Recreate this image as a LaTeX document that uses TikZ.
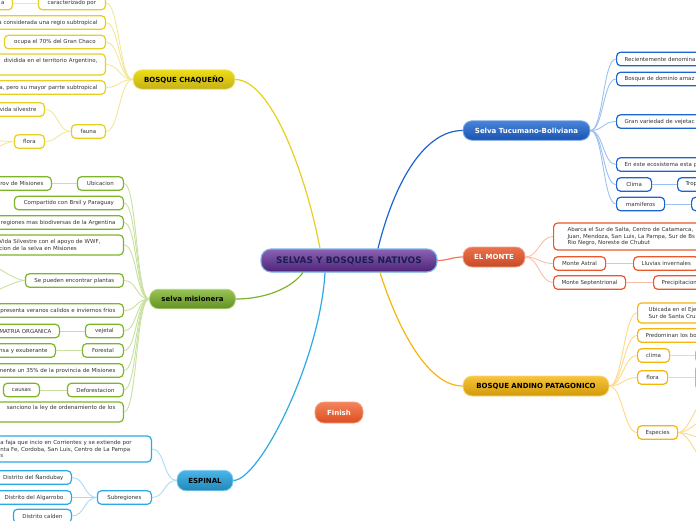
\documentclass[tikz,border=0pt]{standalone}
\usepackage{fontspec}
\setmainfont{DejaVu Sans}
\usetikzlibrary{calc}
\definecolor{txtc}{HTML}{333333}
\definecolor{yB}{HTML}{E6CF1E}\definecolor{yC}{HTML}{F3E79A}
\definecolor{gB}{HTML}{7DB52A}\definecolor{gC}{HTML}{C8E0A0}
\definecolor{lB}{HTML}{2AA9E6}\definecolor{lC}{HTML}{A8DCF7}
\definecolor{tB}{HTML}{1C64D0}\definecolor{tC}{HTML}{9CC0F0}
\definecolor{oB}{HTML}{E8582C}\definecolor{oC}{HTML}{F8BFA8}
\definecolor{aB}{HTML}{F5B50A}\definecolor{aC}{HTML}{FDD98A}
\newcommand\leaffont{\fontsize{5.5}{6.6}\selectfont}
\begin{document}
\begin{tikzpicture}[x=1pt,y=-1pt,
  leaf/.style={draw, fill=white, rounded corners=4pt, line width=1.2pt, font=\leaffont, text=txtc, inner xsep=8pt, inner ysep=1pt, minimum height=13.5pt},
  leafY/.style={leaf, draw=yB}, leafG/.style={leaf, draw=gB}, leafL/.style={leaf, draw=lB},
  leafT/.style={leaf, draw=tB}, leafO/.style={leaf, draw=oB}, leafA/.style={leaf, draw=aB},
  offL/.style={anchor=east, text width=220pt, align=right},
  offR/.style={anchor=west, text width=220pt, align=left},
  mainnode/.style={draw, rounded corners=9pt, line width=0.8pt, minimum height=19.5pt, inner sep=0pt, font=\bfseries\fontsize{7}{8}\selectfont},
  mainY/.style={mainnode, top color=yellow!30!yB, bottom color=yB!85!black, draw=yB!50!white, text=black},
  mainG/.style={mainnode, top color=gB!80!white, bottom color=gB!80!black, draw=gB!60!white, text=black},
  mainL/.style={mainnode, top color=lB!85!white, bottom color=lB!80!black, draw=lB!55!white, text=black},
  mainT/.style={mainnode, top color=tB!80!white, bottom color=tB!85!black, draw=tB!55!white, text=white},
  mainO/.style={mainnode, top color=oB!85!white, bottom color=oB!85!black, draw=oB!55!white, text=white},
  mainA/.style={mainnode, top color=aB!80!white, bottom color=aB!85!black, draw=aB!55!white, text=black},
  mainC/.style={mainnode, top color={rgb,255:red,139;green,98;blue,180}, bottom color={rgb,255:red,75;green,35;blue,120}, draw={rgb,255:red,116;green,180;blue,230}, line width=1.1pt, text={rgb,255:red,27;green,31;blue,79}, font=\bfseries\fontsize{9}{10}\selectfont, rounded corners=10pt},
  mainF/.style={mainnode, top color={rgb,255:red,243;green,132;blue,90}, bottom color={rgb,255:red,220;green,78;blue,34}, draw={rgb,255:red,246;green,160;blue,128}, text=white},
  lc/.style={out=180, in=0, distance=13pt},
  rc/.style={out=0, in=180, distance=13pt},
  sub/.style={line width=0.9pt},
  big/.style={line width=1.2pt}
]
\useasboundingbox (0,0) rectangle (696,520);

% ---------- main nodes
\node[mainC, minimum width=176pt, minimum height=23pt] (cen) at (349,260.5) {SELVAS Y BOSQUES NATIVOS};
\node[mainF, minimum width=48pt, minimum height=21pt] (fin) at (339,412.5) {Finish};
\node[mainY, minimum width=102pt] (chaco) at (184,79.5) {BOSQUE CHAQUEÑO};
\node[mainG, minimum width=86pt] (mis) at (192.5,299) {selva misionera};
\node[mainL, minimum width=56pt, minimum height=20.5pt] (esp) at (205,480.5) {ESPINAL};
\node[mainT, minimum width=127pt] (tuc) at (526.5,130.5) {Selva Tucumano-Boliviana};
\node[mainO, minimum width=62pt, minimum height=20pt] (mon) at (494,257) {EL MONTE};
\node[mainA, minimum width=146pt, minimum height=20pt] (and) at (536,386) {BOSQUE ANDINO PATAGONICO};

% ---------- main connectors
\draw[big, yB] ([xshift=-29pt]cen.north) .. controls (305,170) and (270,79.5) .. (chaco.east);
\draw[big, tB] ([xshift=29pt]cen.north) .. controls (395,180) and (425,130.5) .. (tuc.west);
\draw[big, oB!80!white] (cen.east) to[out=0,in=180] (mon.west);
\draw[big, aB] ([xshift=31pt]cen.south) .. controls (395,320) and (425,386) .. (and.west);
\draw[big, gB] ([xshift=-46pt]cen.south) .. controls (290,290) and (262,299) .. (mis.east);
\draw[big, lB] ([xshift=-24pt]cen.south) .. controls (320,360) and (260,480) .. (esp.east);

% ---------- BOSQUE CHAQUEÑO
\node[leafY, anchor=east, minimum width=67pt] (c1) at (106,3) {caracterizado por};
\node[leafY, offL] (c1a) at (13,3) {a};
\node[leafY, offL] (c2) at (106,22.5) {a considerada una regio subtropical};
\node[leafY, anchor=east, minimum width=101pt] (c3) at (106,42) {ocupa el 70\% del Gran Chaco};
\node[leafY, offL, minimum height=21pt] (c4) at (106,64.5) {dividida en el territorio Argentino,\\ \strut};
\node[leafY, offL] (c5) at (106,87.5) {a, pero su mayor parrte subtropical};
\node[leafY, anchor=east, minimum width=34pt] (c6) at (106,131.5) {fauna};
\node[leafY, offL] (c6a) at (45,109.5) {vida silvestre};
\node[leafY, anchor=east, minimum width=30pt] (c6b) at (45,141.5) {flora};
\coordinate (f1) at (-40,138);
\coordinate (f2) at (-40,165);
\foreach \c in {c1,c2,c3,c4,c5,c6} \draw[sub, yC] (chaco.west) to[lc] (\c.east);
\draw[sub, yC] (c1.west) to[lc] (c1a.east);
\draw[sub, yC] (c6.west) to[lc] (c6a.east);
\draw[sub, yC] (c6.west) to[lc] (c6b.east);
\draw[sub, yC] (c6b.west) to[lc] (f1);
\draw[sub, yC] (c6b.west) to[lc] (f2);

% ---------- selva misionera
\node[leafG, anchor=east, minimum width=46pt] (m1) at (124,183.5) {Ubicacion};
\node[leafG, offL] (m1a) at (52,183.5) {rov de Misiones};
\node[leafG, anchor=east, minimum width=109pt] (m2) at (124,203) {Compartido con Brsil y Paraguay};
\node[leafG, offL] (m3) at (124,222.5) {regiones mas biodiversas de la Argentina};
\node[leafG, anchor=east, text width=116pt, align=left, minimum height=20pt] (m4) at (124,245) {Vida Silvestre con el apoyo de WWF,\\cion de la selva en Misiones};
\node[leafG, anchor=east, minimum width=98pt] (m5) at (124,280.5) {Se pueden encontrar plantas};
\coordinate (p1) at (-30,255);
\coordinate (p2) at (-30,300);
\node[leafG, offL] (m6) at (124,310.5) {presenta veranos calidos e inviernos frios};
\node[leafG, anchor=east, minimum width=38pt] (m7) at (124,331) {vejetal};
\node[leafG, offL] (m7a) at (60,331) {MATRIA ORGANICA};
\node[leafG, anchor=east, minimum width=41pt] (m8) at (124,350.5) {Forestal};
\node[leafG, offL] (m8a) at (56,350.5) {nsa y exuberante};
\node[leafG, offL] (m9) at (124,370.5) {mente un 35\% de la provincia de Misiones};
\node[leafG, anchor=east, minimum width=56pt] (m10) at (124,390) {Deforestacion};
\node[leafG, anchor=east, minimum width=36pt] (m10a) at (40,390) {causas};
\node[leafG, offL, minimum height=20pt] (m11) at (124,412) {sanciono la ley de ordenamiento de los\\ \strut};
\foreach \c in {m1,m2,m3,m4,m5,m6,m7,m8,m9,m10,m11} \draw[sub, gC] (mis.west) to[lc] (\c.east);
\draw[sub, gC] (m1.west) to[lc] (m1a.east);
\draw[sub, gC] (m5.west) to[lc] (p1);
\draw[sub, gC] (m5.west) to[lc] (p2);
\draw[sub, gC] (m7.west) to[lc] (m7a.east);
\draw[sub, gC] (m8.west) to[lc] (m8a.east);
\draw[sub, gC] (m10.west) to[lc] (m10a.east);

% ---------- ESPINAL
\node[leafL, anchor=east, text width=143pt, align=left, minimum height=26pt] (e1) at (152,449) {a faja que incio en Corrientes y se extiende por\\nta Fe, Cordoba, San Luis, Centro de La Pampa\\s};
\node[leafL, anchor=east, minimum width=54pt] (e2) at (152,497.5) {Subregiones};
\node[leafL, offL] (e2a) at (72,477.5) {Distrito del Ñandubay};
\node[leafL, offL] (e2b) at (72,497.5) {Distrito del Algarrobo};
\node[leafL, anchor=east, minimum width=58pt] (e2c) at (72,516) {Distrito calden};
\foreach \c in {e1,e2} \draw[sub, lC] (esp.west) to[lc] (\c.east);
\foreach \c in {e2a,e2b,e2c} \draw[sub, lC] (e2.west) to[lc] (\c.east);

% ---------- Selva Tucumano-Boliviana
\node[leafT, offR] (t1) at (616,59) {Recientemente denomina};
\node[leafT, offR] (t2) at (616,79) {Bosque de dominio amaz};
\node[leafT, offR] (t3) at (616,121.5) {Gran variedad de vejetac};
\node[leafT, offR] (t4) at (616,164.5) {En este ecosistema esta p};
\node[leafT, anchor=west, minimum width=35pt] (t5) at (616,184.5) {Clima};
\node[leafT, offR] (t5a) at (677,184.5) {Trop};
\node[leafT, anchor=west, minimum width=48pt] (t6) at (616,204) {mamiferos};
\node[leafT, anchor=west, minimum width=40pt] (t6a) at (691,204) {};
\foreach \c in {t1,t2,t3,t4,t5,t6} \draw[sub, tC] (tuc.east) to[rc] (\c.west);
\draw[sub, tC] (t5.east) to[rc] (t5a.west);
\draw[sub, tC] (t6.east) to[rc] (t6a.west);

% ---------- EL MONTE
\node[leafO, anchor=west, text width=220pt, align=left, inner xsep=14pt, minimum height=27pt] (n1) at (553,236.5) {Abarca el Sur de Salta, Centro de Catamarca,\\Juan, Mendoza, San Luis, La Pampa, Sur de Bs\\Rio Negro, Noreste de Chubut};
\node[leafO, anchor=west, minimum width=52pt] (n2) at (553,263.5) {Monte Astral};
\node[leafO, anchor=west] (n2a) at (633,263.5) {Lluvias invernales};
\node[leafO, anchor=west, minimum width=72pt] (n3) at (553,282.5) {Monte Septentrional};
\node[leafO, offR] (n3a) at (653,282.5) {Precipitacion};
\foreach \c in {n1,n2,n3} \draw[sub, oC] (mon.east) to[rc] (\c.west);
\draw[sub, oC] (n2.east) to[rc] (n2a.west);
\draw[sub, oC] (n3.east) to[rc] (n3a.west);

% ---------- BOSQUE ANDINO PATAGONICO
\node[leafA, offR, inner xsep=11pt, minimum height=20pt] (a1) at (637,313) {Ubicada en el Eje\\Sur de Santa Cruz};
\node[leafA, offR] (a2) at (637,335.5) {Predominan los bo};
\node[leafA, anchor=west, minimum width=32pt] (a3) at (637,355.5) {clima};
\node[leafA, anchor=west, minimum width=40pt] (a3a) at (695,355.5) {};
\node[leafA, anchor=west, minimum width=30pt] (a4) at (637,377.5) {flora};
\node[leafA, anchor=west, minimum width=40pt, minimum height=24pt] (a4a) at (695,377.5) {};
\node[leafA, anchor=west, minimum width=40pt] (a5) at (637,432.5) {Especies};
\coordinate (s1) at (716,382);
\coordinate (s2) at (716,414);
\coordinate (s3) at (716,442);
\coordinate (s4) at (716,474);
\foreach \c in {a1,a2,a3,a4,a5} \draw[sub, aC] (and.east) to[rc] (\c.west);
\draw[sub, aC] (a3.east) to[rc] (a3a.west);
\draw[sub, aC] (a4.east) to[rc] (a4a.west);
\foreach \c in {s1,s2,s3,s4} \draw[sub, aC] (a5.east) to[rc] (\c);
\end{tikzpicture}
\end{document}
